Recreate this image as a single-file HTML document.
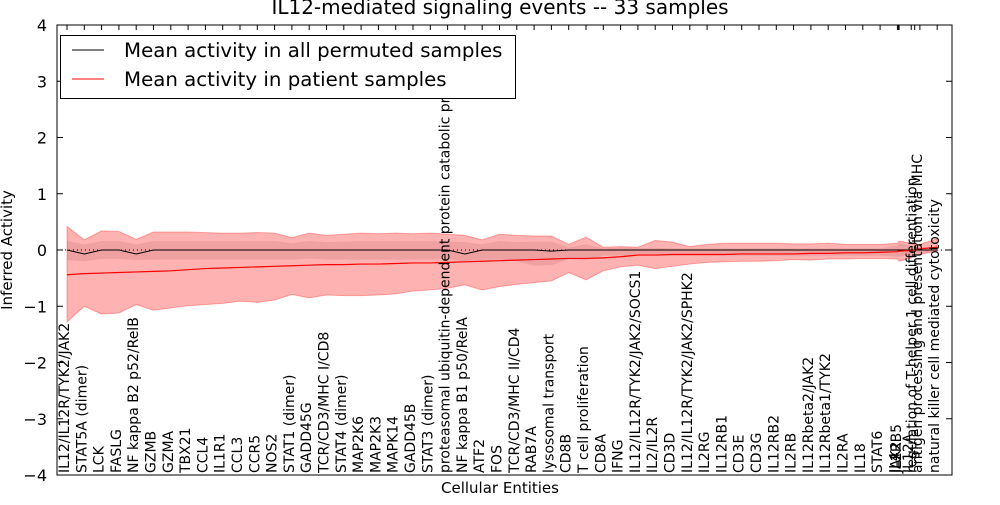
<!DOCTYPE html>
<html><head><meta charset="utf-8"><style>
body{margin:0;background:#fff;width:1000px;height:500px;overflow:hidden}
svg{font-family:"DejaVu Sans","Liberation Sans",sans-serif}
</style></head><body>
<svg id="chart" width="1000" height="500"></svg>
<script>
const categories=["IL12/IL12R/TYK2/JAK2","STAT5A (dimer)","LCK","FASLG","NF kappa B2 p52/RelB","GZMB","GZMA","TBX21","CCL4","IL1R1","CCL3","CCR5","NOS2","STAT1 (dimer)","GADD45G","TCR/CD3/MHC I/CD8","STAT4 (dimer)","MAP2K6","MAP2K3","MAPK14","GADD45B","STAT3 (dimer)","proteasomal ubiquitin-dependent protein catabolic pr","NF kappa B1 p50/RelA","ATF2","FOS","TCR/CD3/MHC II/CD4","RAB7A","lysosomal transport","CD8B","T cell proliferation","CD8A","IFNG","IL12/IL12R/TYK2/JAK2/SOCS1","IL2/IL2R","CD3D","IL12/IL12R/TYK2/JAK2/SPHK2","IL2RG","IL12RB1","CD3E","CD3G","IL12RB2","IL2RB","IL12Rbeta2/JAK2","IL12Rbeta1/TYK2","IL2RA","IL18","STAT6","IL4","JAK2","IL2RB5","IL12A","regulation of T-helper 1 cell differentiation","antigen processing and presentation via MHC","natural killer cell mediated cytotoxicity"];
const xIndex=[0,1,2,3,4,5,6,7,8,9,10,11,12,13,14,15,16,17,18,19,20,21,22,23,24,25,26,27,28,29,30,31,32,33,34,35,36,37,38,39,40,41,42,43,44,45,46,47,48,48.05,48.1,48.8,49.0,49.3,50.3];
const patientMean=[-0.44,-0.42,-0.41,-0.4,-0.39,-0.38,-0.37,-0.35,-0.33,-0.32,-0.31,-0.3,-0.29,-0.28,-0.27,-0.26,-0.26,-0.25,-0.25,-0.24,-0.23,-0.23,-0.22,-0.21,-0.2,-0.19,-0.18,-0.17,-0.16,-0.15,-0.15,-0.14,-0.12,-0.09,-0.09,-0.08,-0.08,-0.08,-0.08,-0.07,-0.07,-0.07,-0.07,-0.06,-0.06,-0.05,-0.05,-0.04,-0.03,-0.02,-0.02,-0.01,0,0.02,0.05];
const patientLow=[-1.28,-1.0,-1.14,-1.12,-0.97,-1.07,-1.03,-0.99,-0.97,-0.95,-0.91,-0.93,-0.89,-0.79,-0.85,-0.8,-0.81,-0.81,-0.8,-0.78,-0.73,-0.71,-0.68,-0.62,-0.71,-0.65,-0.61,-0.58,-0.55,-0.4,-0.53,-0.37,-0.3,-0.27,-0.33,-0.29,-0.25,-0.22,-0.21,-0.2,-0.2,-0.19,-0.17,-0.18,-0.16,-0.16,-0.15,-0.15,-0.16,-0.18,-0.2,-0.14,-0.1,-0.08,-0.02];
const patientHigh=[0.42,0.18,0.34,0.33,0.19,0.32,0.32,0.32,0.31,0.3,0.3,0.31,0.3,0.22,0.3,0.26,0.28,0.3,0.29,0.3,0.29,0.3,0.28,0.26,0.18,0.28,0.26,0.25,0.25,0.1,0.23,0.05,0.06,0.05,0.17,0.14,0.06,0.1,0.12,0.12,0.12,0.12,0.11,0.11,0.12,0.1,0.1,0.1,0.12,0.14,0.16,0.12,0.1,0.1,0.2];
const permMean=[0,-0.07,0,0,-0.07,0,0,0,0,0,0,0,0,0,0,0,0,0,0,0,0,0,0,-0.07,0,0,0,0,-0.02,0,0,0,0,0,0,0,0,0,0,0,0,0,0,0,0,0,0,0,0,0,0,0,0,0,0];
const permLow=[-0.18,-0.2,-0.16,-0.16,-0.18,-0.17,-0.17,-0.17,-0.17,-0.17,-0.17,-0.17,-0.17,-0.17,-0.15,-0.17,-0.17,-0.17,-0.17,-0.17,-0.17,-0.17,-0.16,-0.2,-0.17,-0.17,-0.2,-0.28,-0.27,-0.16,-0.18,-0.1,-0.1,-0.1,-0.1,-0.1,-0.1,-0.1,-0.1,-0.1,-0.1,-0.1,-0.1,-0.1,-0.1,-0.1,-0.1,-0.1,-0.12,-0.12,-0.12,-0.08,-0.06,-0.05,-0.03];
const permHigh=[0.16,0.1,0.16,0.16,0.1,0.16,0.16,0.16,0.16,0.16,0.16,0.16,0.16,0.12,0.16,0.14,0.15,0.16,0.16,0.16,0.16,0.16,0.15,0.14,0.1,0.16,0.14,0.15,0.15,0.05,0.1,0.03,0.04,0.03,0.04,0.03,0.03,0.03,0.03,0.03,0.03,0.03,0.03,0.03,0.03,0.03,0.03,0.03,0.08,0.1,0.12,0.08,0.06,0.05,0.03];
const yTicks=[-4,-3,-2,-1,0,1,2,3,4];

const NS="http://www.w3.org/2000/svg";
const svg=document.getElementById('chart');
const L=57,R=952,T=25,B=475;
const xs=i=>67+17.3*i;
const ys=v=>250-v*56.25;
function mk(tag,attrs,parent){const e=document.createElementNS(NS,tag);for(const k in attrs)e.setAttribute(k,attrs[k]);(parent||svg).appendChild(e);return e;}
function areaPath(lo,hi){let d='';xIndex.forEach((x,i)=>{d+=(i?'L':'M')+xs(x)+','+ys(hi[i]);});for(let i=xIndex.length-1;i>=0;i--)d+='L'+xs(xIndex[i])+','+ys(lo[i]);return d+'Z';}
function linePath(v){return xIndex.map((x,i)=>(i?'L':'M')+xs(x)+','+ys(v[i])).join('');}

const pb=mk('path',{d:areaPath(patientLow,patientHigh),fill:'rgba(255,0,0,0.3)',stroke:'rgba(255,0,0,0.3)','stroke-width':1});


const gb=mk('path',{d:areaPath(permLow,permHigh),fill:'rgba(120,40,40,0.12)',stroke:'none'});


const zl=mk('line',{x1:L,x2:R,y1:ys(0),y2:ys(0),stroke:'#000','stroke-dasharray':'1,3','stroke-width':1});


const pm=mk('path',{d:linePath(permMean),fill:'none',stroke:'#000','stroke-width':1});


const rm=mk('path',{d:linePath(patientMean),fill:'none',stroke:'#f00','stroke-width':1.2});



yTicks.forEach(v=>{
  const y=ys(v);
  const t=mk('text',{x:47,y:y+6,'text-anchor':'end','font-size':16});
  t.textContent=(v<0?'\u2212':'')+Math.abs(v);
  
  
  mk('line',{x1:L,x2:L+6,y1:y,y2:y,stroke:'#000'});
  mk('line',{x1:R-6,x2:R,y1:y,y2:y,stroke:'#000'});
});
categories.forEach((c,i)=>{
  const x=xs(xIndex[i]);
  mk('line',{x1:x,x2:x,y1:T,y2:T+5,stroke:'#000'});
  const t=mk('text',{transform:`translate(${x+2},${B-2}) rotate(-90)`,'font-size':14});
  t.textContent=c;
  
  
});
const fr=mk('rect',{x:L,y:T,width:R-L,height:B-T,fill:'none',stroke:'#000','stroke-width':1});


</script>
<svg width="1000" height="500" style="position:absolute;left:0;top:0">
<text x="500" y="14" text-anchor="middle" font-size="20" font-family="DejaVu Sans, sans-serif">IL12-mediated signaling events -- 33 samples</text>
<text x="500" y="493" text-anchor="middle" font-size="15" font-family="DejaVu Sans, sans-serif">Cellular Entities</text>
<text transform="translate(12,250) rotate(-90)" text-anchor="middle" font-size="15" font-family="DejaVu Sans, sans-serif">Inferred Activity</text>
<g>
<rect x="60.5" y="35.5" width="455" height="63" fill="#fff" stroke="#000"/>
<line x1="72" x2="104" y1="50" y2="50" stroke="#000"/>
<text x="124" y="57" font-size="19.8" font-family="DejaVu Sans, sans-serif">Mean activity in all permuted samples</text>
<line x1="72" x2="104" y1="79" y2="79" stroke="#f00"/>
<text x="124" y="86" font-size="19.8" font-family="DejaVu Sans, sans-serif">Mean activity in patient samples</text>
</g>
</svg>
</body></html>
